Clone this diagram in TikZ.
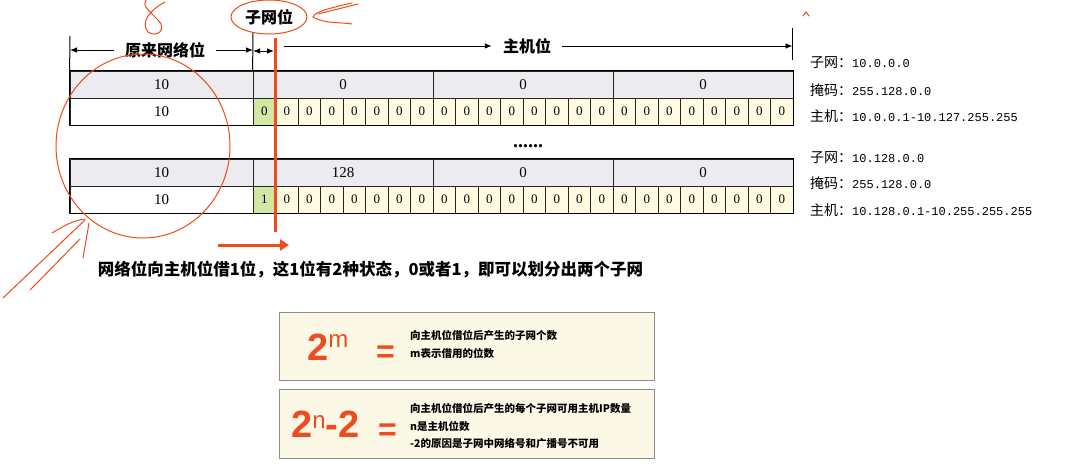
\documentclass[tikz,border=0pt]{standalone}
\usepackage{fontspec}
\setmainfont{Liberation Serif}
\newfontfamily\cjk{Noto Sans CJK SC}
\newfontfamily\ipmono{Liberation Mono}
\newfontfamily\bigsans{Liberation Sans}
\usepackage{tikz}
\usetikzlibrary{arrows.meta,positioning}
\definecolor{headgray}{HTML}{ECECF0}
\definecolor{bitcream}{HTML}{FFFBE3}
\definecolor{subgreen}{HTML}{D5E8A3}
\definecolor{pen}{HTML}{EE4B1F}
\definecolor{boxcream}{HTML}{FCF8E6}
\def\cellw{22.5}
\def\bytew{180}

\begin{document}
\begin{tikzpicture}[x=1pt,y=-1pt,>={Latex[length=7pt,width=5.5pt]}]
    \tikzstyle{cell}=[draw=black!85,line width=0.8pt,inner sep=0pt,minimum height=27pt]
    \tikzstyle{left cell}=[cell,minimum width=183pt,font=\fontsize{15}{15}\selectfont]
    \tikzstyle{head cell}=[cell,fill=headgray,minimum width=\bytew pt,font=\fontsize{15}{15}\selectfont]
    \tikzstyle{bit cell}=[cell,fill=bitcream,minimum width=\cellw pt,font=\fontsize{13}{13}\selectfont]
    \tikzstyle{range label}=[inner xsep=11pt,font=\cjk\bfseries\fontsize{16}{16}\selectfont]
    \tikzstyle{info}=[anchor=west,inner sep=0pt,font=\ipmono\fontsize{12}{12}\selectfont]
    \tikzstyle{fbox}=[draw=black!45,fill=boxcream,line width=1pt,minimum width=375pt]
    \tikzstyle{formula}=[anchor=base west,inner sep=0pt,text=pen,font=\bigsans\bfseries\fontsize{38}{38}\selectfont]
    \tikzstyle{note}=[anchor=west,inner sep=0pt,font=\cjk\bfseries\fontsize{10.5}{10.5}\selectfont]
    \tikzstyle{scribble}=[draw=pen,line width=1pt,line cap=round]

    \useasboundingbox (0,0) rectangle (1070,469);
    \fill[white] (0,0) rectangle (1070,469);

    % Draw the two address tables
    \foreach \t/\ty/\hv/\bitv in {1/71/0/0,2/159/128/1} {
        \node[left cell,fill=headgray] (L\t-h) at (161.5,\ty+13.5) {10};
        \node[left cell] (L\t-b) at (161.5,\ty+40.5) {10};
        \node[head cell] (H\t-1) at (343,\ty+13.5) {\hv};
        \foreach \k in {2,3}
            \node[head cell] (H\t-\k) at ({253+\bytew*(\k-0.5)},\ty+13.5) {0};
        \node[bit cell,fill=subgreen] (B\t-1) at (264.25,\ty+40.5) {\bitv};
        \foreach \i in {2,...,24}
            \node[bit cell] (B\t-\i) at ({253+\cellw*(\i-0.5)},\ty+40.5) {0};
        \draw[line width=1.6pt] (L\t-h.north west) rectangle (B\t-24.south east);
    }
    \node[anchor=base,font=\bfseries\fontsize{20}{20}\selectfont] (dots) at (528,147) {......};

    % Mark the bit ranges above the first table
    \coordinate (tick-a) at (70,36);
    \coordinate (tick-b) at (253,33);
    \coordinate (tick-c) at (792.5,28);
    \coordinate (tick-d) at (792.5,60);
    \draw[line width=1pt] (tick-a) -- (L1-h.north west);
    \draw[line width=1pt] (tick-b) -- (H1-1.north west);
    \draw[line width=1pt] (tick-c) -- (tick-d);

    \node[range label] (net label) at (165,50) {原来网络位};
    \draw[->,line width=0.9pt] (net label.west) -- (net label.west -| tick-a);
    \draw[->,line width=0.9pt] (net label.east) -- (net label.east -| tick-b);

    \node[range label] (sub label) at (269,17) {子网位};
    \coordinate (sub-l) at (253,51);
    \coordinate (sub-r) at (274,51);
    \draw[<->,line width=0.9pt] (sub-l) -- (sub-r);

    \node[range label] (host label) at (527,46) {主机位};
    \coordinate (host-s) at (284,46);
    \draw[->,line width=0.9pt] (host-s) -- (host label.west);
    \draw[->,line width=0.9pt] (host label.east) -- (host label.east -| tick-c);

    % Subnet and host ranges at the right
    \foreach \n/\y/\k/\v in {s1/63/子网/10.0.0.0, m1/90/掩码/255.128.0.0,
        h1/116/主机/10.0.0.1-10.127.255.255, s2/158/子网/10.128.0.0,
        m2/183/掩码/255.128.0.0, h2/210/主机/10.128.0.1-10.255.255.255}
        \node[info] (info-\n) at (810,\y) {{\cjk\fontsize{14}{14}\selectfont \k：}\v};

    % The borrowed bit
    \coordinate (cut-top) at (275.5,38);
    \coordinate (cut-bot) at (275.5,232);
    \draw[draw=pen,line width=3.5pt] (cut-top) -- (cut-bot);
    \coordinate (move-s) at (218,245);
    \coordinate (move-e) at (289,245);
    \draw[draw=pen,line width=3pt,-{Triangle[length=9pt,width=11pt]}] (move-s) -- (move-e);

    \node[font=\cjk\bfseries\fontsize{16.5}{16.5}\selectfont] (caption) at (370.5,270)
        {网络位向主机位借1位，这1位有2种状态，0或者1，即可以划分出两个子网};

    % Formula boxes
    \node[fbox,minimum height=68pt] (box-m) at (466.5,346) {};
    \node[formula] (f-m) at (307,360.7) {2\raisebox{13pt}{\mdseries\fontsize{24}{24}\selectfont m}};
    \node[formula,font=\bigsans\bfseries\fontsize{32}{32}\selectfont] (eq-m) at (376,362) {=};
    \node[note] (m-1) at (410,335) {向主机位借位后产生的子网个数};
    \node[note] (m-2) at (410,353) {m表示借用的位数};

    \node[fbox,minimum height=69pt] (box-n) at (466.5,423.5) {};
    \node[formula] (f-n) at (291,437) {2\raisebox{9pt}{\mdseries\fontsize{24}{24}\selectfont n}-2};
    \node[formula,font=\bigsans\bfseries\fontsize{32}{32}\selectfont] (eq-n) at (378,440) {=};
    \node[note] (n-1) at (410,408) {向主机位借位后产生的每个子网可用主机IP数量};
    \node[note] (n-2) at (410,426) {n是主机位数};
    \node[note] (n-3) at (410,444) {-2的原因是子网中网络号和广播号不可用};

    % Hand drawn marks
    \draw[scribble] (143,146) ellipse [x radius=87, y radius=92];
    \draw[scribble] (269,17) ellipse [x radius=38, y radius=17];
    \draw[scribble] (352,3) .. controls (330,8) and (314,12) .. (313,17)
        .. controls (325,24) and (340,22) .. (352,24);
    \draw[scribble] (318,14) -- (358,4);
    \draw[scribble] (165,2) .. controls (150,10) and (140,22) .. (148,32)
        .. controls (156,38) and (168,30) .. (158,20) .. controls (148,10) and (142,5) .. (146,0);
    \draw[scribble] (803,16) -- (806,12) -- (809,16);
    \draw[scribble] (3,298) -- (85,220);
    \draw[scribble] (30,290) -- (80,239);
    \draw[scribble] (52,233) .. controls (65,225) and (75,220) .. (85,219);
    \draw[scribble] (83,258) -- (89,223);
\end{tikzpicture}
\end{document}
